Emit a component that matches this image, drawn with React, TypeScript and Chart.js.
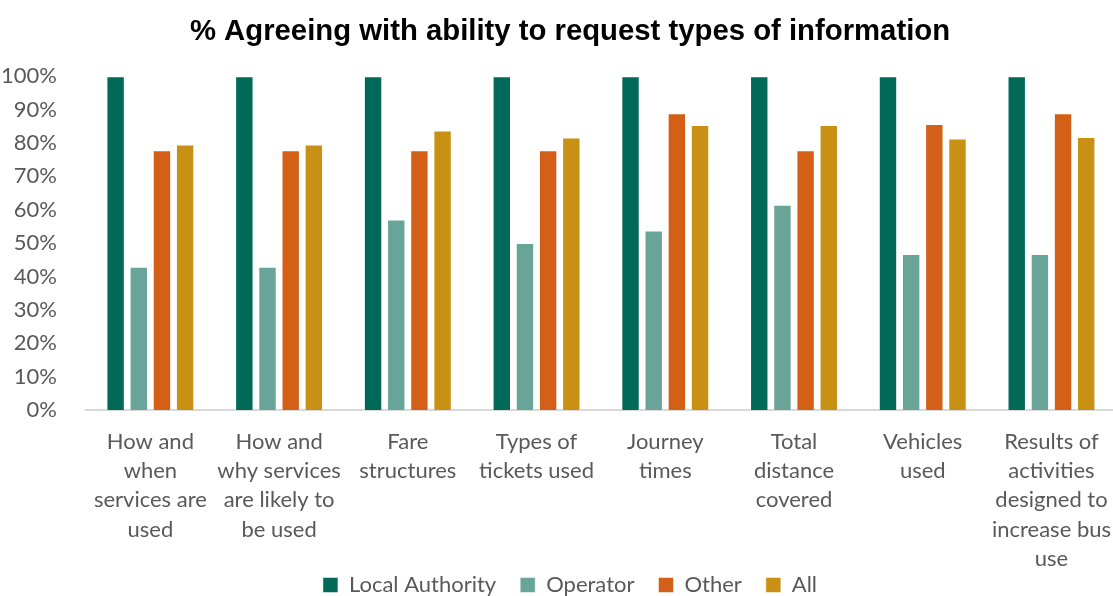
import React, { useEffect, useRef } from "react";
import { Chart, registerables } from "chart.js";

Chart.register(...registerables);

const categories: string[][] = [
  ["How and", "when", "services are", "used"],
  ["How and", "why services", "are likely to", "be used"],
  ["Fare", "structures"],
  ["Types of", "tickets used"],
  ["Journey", "times"],
  ["Total", "distance", "covered"],
  ["Vehicles", "used"],
  ["Results of", "activities", "designed to", "increase bus", "use"],
];

const localAuthority = [100, 100, 100, 100, 100, 100, 100, 100];
const operator = [42.9, 42.9, 57.1, 50, 53.8, 61.5, 46.7, 46.7];
const other = [77.8, 77.8, 77.8, 77.8, 88.9, 77.8, 85.7, 88.9];
const all = [79.5, 79.5, 83.7, 81.6, 85.4, 85.4, 81.3, 81.8];

const yTicks = [0, 10, 20, 30, 40, 50, 60, 70, 80, 90, 100];

const FONT = "Lato, 'Open Sans', sans-serif";
const TEXT = "#595959";
const W = 1120;
const H = 606;

export default function App() {
  const ref = useRef<HTMLCanvasElement | null>(null);
  useEffect(() => {
    if (!ref.current) return;
    const mk = (label: string, data: number[], color: string) => ({
      label,
      data,
      backgroundColor: color,
      borderColor: "rgba(255,255,255,0.5)",
      borderWidth: 1,
      categoryPercentage: 0.72,
      barPercentage: 0.794,
    });
    const chart = new Chart(ref.current, {
      type: "bar",
      data: {
        labels: categories,
        datasets: [
          mk("Local Authority", localAuthority, "#006957"),
          mk("Operator", operator, "#68A598"),
          mk("Other", other, "#D45F16"),
          mk("All", all, "#C89113"),
        ],
      },
      options: {
        responsive: false,
        animation: false,
        layout: { padding: { left: 20, right: 0, top: 0, bottom: 0 } },
        plugins: {
          title: {
            display: true,
            text: "% Agreeing with ability to request types of information",
            font: { family: "'Liberation Sans', Arial, sans-serif", size: 29.3, weight: "bold" },
            color: "#000000",
            padding: { top: 14, bottom: 27 },
          },
          legend: {
            position: "bottom",
            labels: {
              boxWidth: 15,
              boxHeight: 15,
              font: { family: FONT, size: 22 },
              color: TEXT,
              padding: 24,
            },
          },
          tooltip: { enabled: false },
        },
        scales: {
          x: {
            grid: { display: false },
            border: { display: true, color: "#D9D9D9", width: 2 },
            ticks: {
              color: TEXT,
              font: { family: FONT, size: 22, lineHeight: 1.333 },
              maxRotation: 0,
              autoSkip: false,
              padding: 9,
            },
            afterFit: (scale: any) => {
              scale.height = 140;
              scale._computeLabelArea = () => undefined;
            },
          },
          y: {
            min: 0,
            max: 100,
            afterBuildTicks: (axis: any) => {
              axis.ticks = yTicks.map((v) => ({ value: v }));
            },
            afterFit: (scale: any) => {
              scale.width = 66;
              scale._computeLabelArea = () => undefined;
            },
            grid: { display: false },
            border: { display: false },
            ticks: {
              color: TEXT,
              font: { family: FONT, size: 22 },
              padding: 21,
              callback: (v: any) => v + "%",
            },
          },
        },
      },
    });
    return () => chart.destroy();
  }, []);
  return (
    <div style={{ position: "absolute", left: 0, top: 0, width: 1113, height: 596, overflow: "hidden", background: "#fff" }}>
      <canvas ref={ref} width={W} height={H} style={{ display: "block" }} />
    </div>
  );
}
